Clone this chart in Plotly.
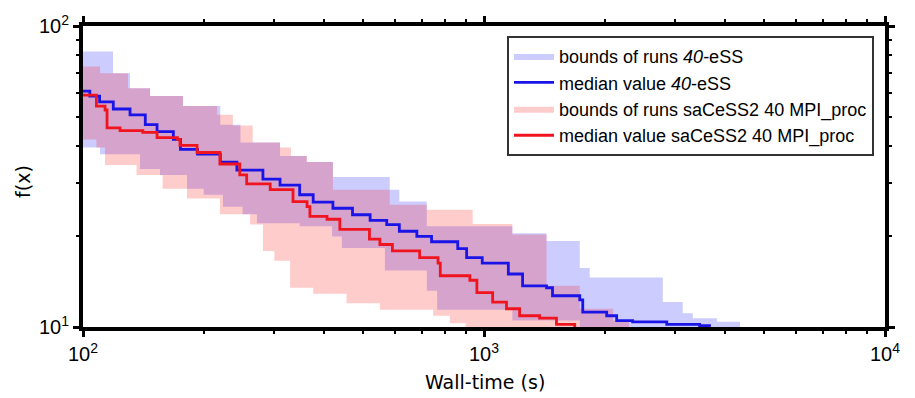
import plotly.graph_objects as go

# ---- data (wall-time in s, f(x)) ----
ess_upper_t = [100, 118.8, 131, 147, 177.5, 220, 247, 310, 361, 420, 582, 615, 720, 1177, 1432, 1733, 1835, 2792, 3130, 3316, 3810, 4350]
ess_upper_f = [82.2, 69.6, 62.1, 58.5, 54.2, 47.0, 41.0, 37.0, 35.3, 31.5, 28.6, 26.1, 21.6, 20.5, 19.3, 15.7, 14.6, 12.1, 11.1, 10.7, 10.4, 10.0]

ess_lower_t = [100, 110.3, 138.7, 155.6, 181.7, 200, 223.3, 250, 271.5, 347, 418, 442, 566, 720, 764, 1177, 1733]
ess_lower_f = [39.5, 37.5, 33.5, 32.0, 28.8, 27.5, 25.1, 23.7, 22.1, 21.6, 20.0, 18.3, 15.4, 13.2, 11.4, 10.5, 10.0]

ess_med_t = [100, 104, 110, 119, 131, 143, 153, 168, 175, 193, 220, 242, 281, 310, 347, 375, 420, 470, 520, 572, 615, 680, 740, 860, 905, 990, 1150, 1248, 1432, 1482, 1733, 1763, 2023, 2142, 2348, 2856, 3450, 3650]
ess_med_f = [60.8, 58.5, 56.0, 53.0, 50.7, 47.0, 44.6, 42.0, 38.9, 37.5, 35.3, 33.2, 31.0, 29.6, 27.5, 26.0, 24.8, 23.6, 22.6, 21.9, 20.8, 20.0, 19.2, 18.2, 17.0, 16.3, 15.0, 13.7, 13.5, 12.7, 12.3, 11.2, 10.9, 10.5, 10.4, 10.2, 10.1, 10.0]

sac_upper_t = [100, 110.3, 129.5, 147, 177.5, 216, 236.5, 265, 310, 330, 362, 420, 582, 720, 937, 1177, 1432, 1733, 2100, 2300]
sac_upper_f = [73.4, 69.6, 62.1, 58.5, 54.2, 50.7, 46.7, 41.0, 39.5, 37.0, 35.3, 28.6, 25.5, 24.5, 22.0, 20.3, 13.7, 11.5, 10.5, 10.0]

sac_lower_t = [100, 108, 113.5, 136, 158, 181.7, 219.5, 261, 281, 300, 328.5, 375, 454, 550, 747, 822, 900]
sac_lower_f = [42.0, 39.5, 34.5, 32.0, 28.8, 26.7, 23.7, 21.9, 17.9, 16.6, 13.5, 12.9, 12.0, 11.4, 10.9, 10.3, 10.0]

sac_med_t = [100, 108, 113.5, 114.8, 123.7, 141, 153, 172, 174.5, 192.5, 219.5, 246, 256, 293, 334, 362, 368, 406, 437, 518, 550, 591, 691, 768, 778, 922, 960, 1051, 1138, 1227, 1376, 1516, 1684]
sac_med_f = [58.9, 54.2, 52.6, 45.9, 44.9, 44.3, 42.6, 42.0, 40.1, 38.0, 34.8, 32.0, 29.9, 28.6, 26.1, 25.1, 23.3, 22.8, 21.1, 19.6, 18.8, 17.9, 17.0, 16.3, 14.8, 14.3, 13.0, 12.1, 11.5, 10.9, 10.7, 10.2, 10.0]

x_tickvals = [100, 1000, 10000]
x_ticktext = ["10<sup>2</sup>", "10<sup>3</sup>", "10<sup>4</sup>"]
y_tickvals = [10, 100]
y_ticktext = ["10<sup>1</sup>", "10<sup>2</sup>"]

BLUE_FILL = "rgba(0,0,255,0.2)"
RED_FILL = "rgba(255,0,0,0.2)"
BLUE = "#1a14e6"
RED = "#f0141e"

fig = go.Figure()
fig.add_trace(go.Scatter(x=ess_lower_t, y=ess_lower_f, mode="lines", line=dict(width=0, shape="hv"),
                         showlegend=False, hoverinfo="skip"))
fig.add_trace(go.Scatter(x=ess_upper_t, y=ess_upper_f, mode="lines", line=dict(width=0, shape="hv"),
                         fill="tonexty", fillcolor=BLUE_FILL, name="bounds of runs <i>40</i>-eSS",
                         legendrank=1))
fig.add_trace(go.Scatter(x=sac_lower_t, y=sac_lower_f, mode="lines", line=dict(width=0, shape="hv"),
                         showlegend=False, hoverinfo="skip"))
fig.add_trace(go.Scatter(x=sac_upper_t, y=sac_upper_f, mode="lines", line=dict(width=0, shape="hv"),
                         fill="tonexty", fillcolor=RED_FILL, name="bounds of runs saCeSS2 40 MPI_proc",
                         legendrank=3))
fig.add_trace(go.Scatter(x=ess_med_t, y=ess_med_f, mode="lines", line=dict(width=2.8, shape="hv", color=BLUE),
                         name="median value <i>40</i>-eSS", legendrank=2))
fig.add_trace(go.Scatter(x=sac_med_t, y=sac_med_f, mode="lines", line=dict(width=2.8, shape="hv", color=RED),
                         name="median value saCeSS2 40 MPI_proc", legendrank=4))

axis_common = dict(
    type="log", showline=True, linewidth=4, linecolor="black", mirror="allticks",
    ticks="outside", ticklen=6, tickwidth=3, tickcolor="black", showgrid=False, zeroline=False,
    tickfont=dict(family="Liberation Sans, Arial, sans-serif", size=20, color="black"),
    minor=dict(ticks="outside", ticklen=3, tickwidth=2, tickcolor="black", dtick="D1", showgrid=False),
)

fig.update_xaxes(range=[2, 4], tickvals=x_tickvals, ticktext=x_ticktext, **axis_common)
fig.update_yaxes(range=[1, 2], tickvals=y_tickvals, ticktext=y_ticktext, **axis_common)

plot_h = 398 - 22 - 71
plot_w = 915 - 83 - 30

fig.update_layout(
    width=915, height=398,
    margin=dict(l=83, r=30, t=22, b=71),
    plot_bgcolor="white", paper_bgcolor="white",
    legend=dict(x=(874 - 83) / plot_w, y=(327 - 32) / plot_h, xanchor="right", yanchor="top",
                traceorder="normal",
                bgcolor="white", bordercolor="#333333", borderwidth=2,
                font=dict(family="Liberation Sans, Arial, sans-serif", size=18, color="black"),
                itemwidth=40, tracegroupgap=0),
)
fig.add_annotation(text="Wall-time (s)", x=(485 - 83) / plot_w, y=(327 - 383) / plot_h,
                   xref="paper", yref="paper", showarrow=False,
                   font=dict(family="DejaVu Sans", size=19, color="black"),
                   xanchor="center", yanchor="middle")
fig.add_annotation(text="f(x)", textangle=-90, x=(23 - 83) / plot_w, y=(327 - 180) / plot_h,
                   xref="paper", yref="paper", showarrow=False,
                   font=dict(family="DejaVu Sans", size=19, color="black"),
                   xanchor="center", yanchor="middle")

fig.write_html("out.html")
